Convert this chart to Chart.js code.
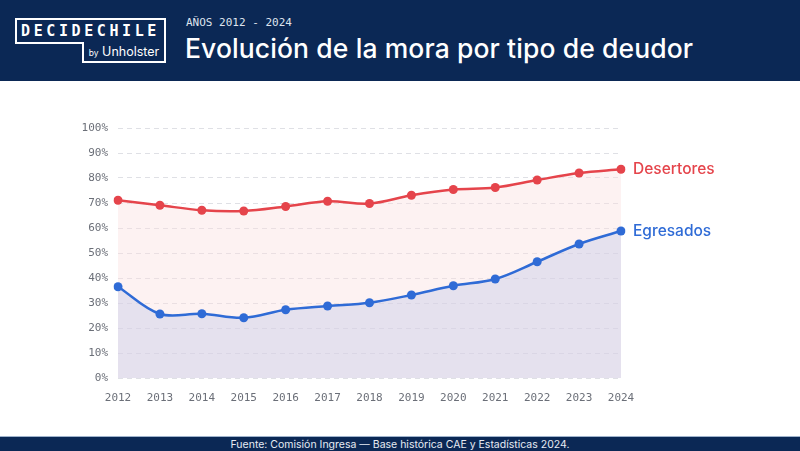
<!DOCTYPE html>
<html>
<head>
<meta charset="utf-8">
<script src="https://cdn.jsdelivr.net/npm/chart.js@4"></script>
<style>
  html, body { margin: 0; padding: 0; }
  body { width: 800px; height: 451px; position: relative; overflow: hidden; background: #fff; font-family: Inter, sans-serif; }
  .header { position: absolute; left: 0; top: 0; width: 800px; height: 81px; background: #0b2855; }
  .logo-top { position: absolute; left: 15px; top: 18px; width: 147px; height: 24px; border: 2px solid #fff; border-bottom: none; }
  .logo-line { position: absolute; left: 15px; top: 42px; width: 69px; height: 0; border-top: 2px solid #fff; }
  .logo-bot { position: absolute; left: 82px; top: 42px; width: 80px; height: 19px; border: 2px solid #fff; border-top: none; }
  .logo-name { position: absolute; left: 19px; top: 20px; width: 143px; text-align: center; color: #fff; font-family: "DejaVu Sans Mono", monospace; font-weight: bold; font-size: 15px; letter-spacing: 3.6px; line-height: 22px; }
  .logo-by { position: absolute; left: 84px; top: 43px; width: 80px; text-align: center; color: #fff; font-size: 12.5px; line-height: 18px; }
  .logo-by small { font-size: 8.5px; }
  .kicker { position: absolute; left: 186px; top: 16px; color: #dfe4ee; font-family: "DejaVu Sans Mono", monospace; font-size: 11px; }
  .title { position: absolute; left: 185px; top: 32px; color: #fff; font-size: 26.5px; font-weight: 500; letter-spacing: 0.1px; }
  .footer { position: absolute; left: 0; top: 436px; width: 800px; height: 15px; background: #0b2855; border-top: 1px solid #9fb3cc; color: #e6ebf3; font-size: 10.5px; line-height: 15px; text-align: center; }
  .wrap { position: absolute; left: 0; top: 81px; width: 800px; height: 355px; }
</style>
</head>
<body>
<div class="header">
  <div class="logo-top"></div>
  <div class="logo-line"></div>
  <div class="logo-bot"></div>
  <div class="logo-name">DECIDECHILE</div>
  <div class="logo-by"><small>by</small> Unholster</div>
  <div class="kicker">AÑOS 2012 - 2024</div>
  <div class="title">Evolución de la mora por tipo de deudor</div>
</div>
<div class="wrap"><canvas id="chart" width="800" height="355"></canvas></div>
<div class="footer">Fuente: Comisión Ingresa — Base histórica CAE y Estadísticas 2024.</div>
<script>
const years = ["2012", "2013", "2014", "2015", "2016", "2017", "2018", "2019", "2020", "2021", "2022", "2023", "2024"];
const desertores = [71.1, 69.1, 67.1, 66.8, 68.6, 70.7, 69.8, 73.1, 75.4, 76.2, 79.2, 82.0, 83.5];
const egresados = [36.5, 25.6, 25.7, 24.1, 27.3, 28.8, 30.1, 33.2, 36.9, 39.6, 46.5, 53.6, 58.8];
const yTicks = [0, 10, 20, 30, 40, 50, 60, 70, 80, 90, 100];

const red = "#e5444b";
const blue = "#2f6bd6";

const context = document.getElementById("chart").getContext("2d");

// series names written next to the last point
const endLabels = {
  id: "endLabels",
  afterDatasetsDraw(chart) {
    const ctx = chart.ctx;
    chart.data.datasets.forEach((ds, i) => {
      const pts = chart.getDatasetMeta(i).data;
      const last = pts[pts.length - 1];
      ctx.save();
      ctx.font = "500 15.5px Inter";
      ctx.fillStyle = ds.borderColor;
      ctx.textBaseline = "middle";
      ctx.fillText(ds.label, last.x + 12, last.y);
      ctx.restore();
    });
  }
};

new Chart(context, {
  type: "line",
  data: {
    labels: years,
    datasets: [
      {
        label: "Desertores",
        data: desertores,
        borderColor: red,
        backgroundColor: "rgba(250, 222, 222, 0.4)",
        pointBackgroundColor: red,
        fill: "origin",
        order: 2
      },
      {
        label: "Egresados",
        data: egresados,
        borderColor: blue,
        backgroundColor: "rgba(200, 205, 232, 0.45)",
        pointBackgroundColor: blue,
        fill: "origin",
        order: 1
      }
    ]
  },
  options: {
    responsive: false,
    animation: false,
    layout: { padding: { left: 70, right: 179, top: 47, bottom: 28 } },
    elements: {
      line: { borderWidth: 2.5, tension: 0.35 },
      point: { radius: 4.5, borderWidth: 0, hoverRadius: 4.5 }
    },
    plugins: {
      legend: { display: false },
      tooltip: { enabled: false }
    },
    scales: {
      x: {
        grid: { display: false },
        border: { display: false },
        ticks: { color: "#6b6f78", font: { family: "DejaVu Sans Mono", size: 11 }, padding: 6, maxRotation: 0 },
        afterFit(scale) { scale.height = 30; }
      },
      y: {
        min: 0,
        max: 100,
        afterBuildTicks(scale) { scale.ticks = yTicks.map(v => ({ value: v })); },
        grid: { color: "#dfe0e5", lineWidth: 1, drawTicks: false },
        border: { display: false, dash: [5, 4] },
        ticks: {
          color: "#6b6f78",
          font: { family: "DejaVu Sans Mono", size: 11 },
          padding: 10,
          callback: v => v + "%"
        },
        afterFit(scale) { scale.width = 48; }
      }
    }
  },
  plugins: [endLabels]
});
</script>
</body>
</html>
